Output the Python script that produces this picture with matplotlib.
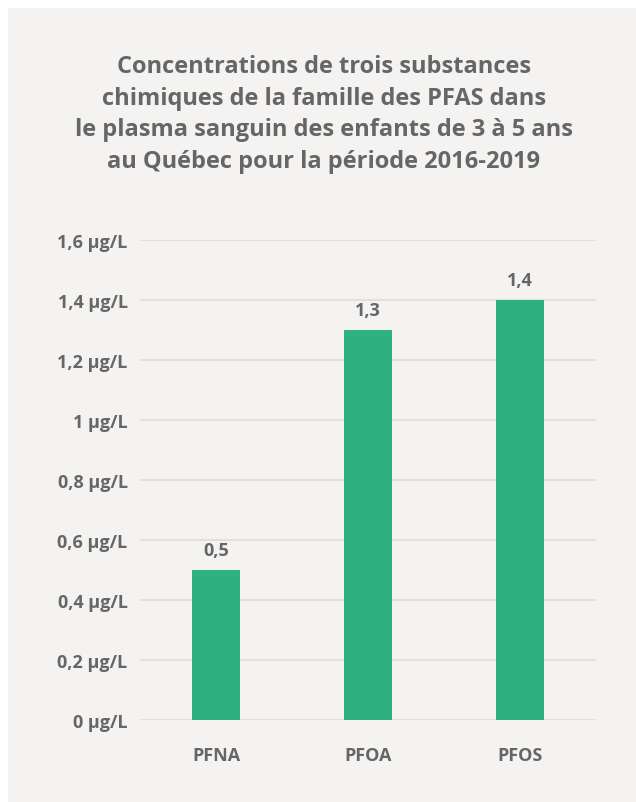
import matplotlib
matplotlib.use("Agg")
import matplotlib.pyplot as plt
import matplotlib.patches as patches

categories = ["PFNA", "PFOA", "PFOS"]
values = [0.5, 1.3, 1.4]
value_labels = ["0,5", "1,3", "1,4"]
y_ticks = [0, 0.2, 0.4, 0.6, 0.8, 1.0, 1.2, 1.4, 1.6]
y_tick_labels = ["0 μg/L", "0,2 μg/L", "0,4 μg/L", "0,6 μg/L", "0,8 μg/L",
                 "1 μg/L", "1,2 μg/L", "1,4 μg/L", "1,6 μg/L"]
title = ("Concentrations de trois substances\n"
         "chimiques de la famille des PFAS dans\n"
         "le plasma sanguin des enfants de 3 à 5 ans\n"
         "au Québec pour la période 2016-2019")

bg = "#f4f3f1"
text_col = "#666666"
bar_col = "#2eb082"
grid_col = "#e3e0da"

plt.rcParams['font.family'] = ['Open Sans', 'DejaVu Sans']

W, H = 636, 803
fig = plt.figure(figsize=(W / 100, H / 100), dpi=100)
fig.patch.set_facecolor("white")
# gray panel, white strip on left and top
fig.patches.append(patches.Rectangle((8 / W, 0), 1, 1 - 9 / H, transform=fig.transFigure,
                                     facecolor=bg, edgecolor="none", zorder=-10))

ax = fig.add_axes([140 / W, 1 - 721 / H, 456 / W, 480 / H])
ax.set_facecolor("none")
x = range(len(categories))
ax.bar(x, values, width=0.316, color=bar_col, zorder=3)
for xi, v, lab in zip(x, values, value_labels):
    ax.annotate(lab, (xi, v), xytext=(0, 8), textcoords="offset points",
                ha="center", va="bottom", fontsize=13, fontweight="bold", color=text_col)

ax.set_xlim(-0.5, 2.5)
ax.set_ylim(0, 1.6)
ax.set_yticks(y_ticks)
ax.set_yticklabels(y_tick_labels, fontsize=13, fontweight="bold", color=text_col)
ax.set_xticks(list(x))
ax.set_xticklabels(categories, fontsize=13, fontweight="bold", color=text_col)
ax.tick_params(axis="y", length=0, pad=9)
ax.tick_params(axis="x", length=0, pad=19)
ax.grid(axis="y", color=grid_col, linewidth=1.5, zorder=0)
for s in ax.spines.values():
    s.set_visible(False)

fig.text(324 / W, 1 - 55 / H, title, ha="center", va="top", fontsize=17,
         fontweight="bold", color=text_col, linespacing=1.42)

fig.savefig("out.png", dpi=100, facecolor=fig.get_facecolor())
